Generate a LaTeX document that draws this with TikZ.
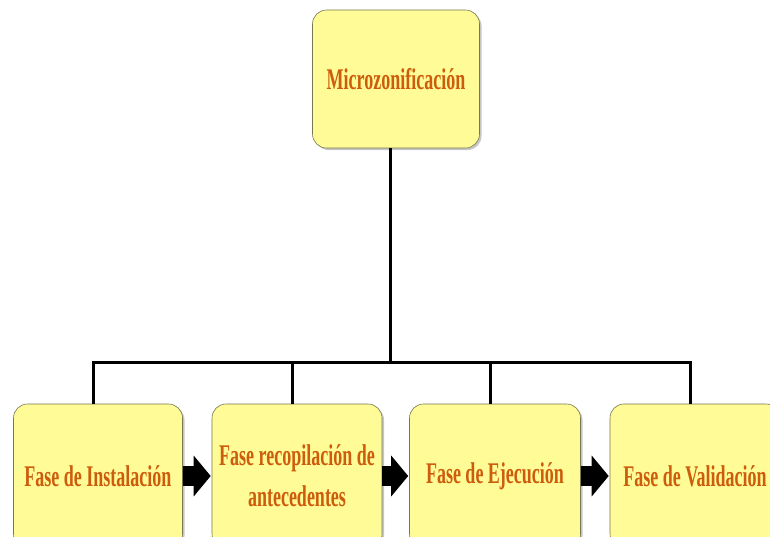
\documentclass[tikz,border=0pt]{standalone}
\usepackage{fontspec}
\setmainfont{Liberation Serif}[FakeStretch=0.6]
\usetikzlibrary{arrows.meta, shadows}

\definecolor{boxfill}{RGB}{255,251,150}
\definecolor{boxline}{RGB}{120,120,80}
\definecolor{phasetext}{RGB}{205,92,12}

\begin{document}
\begin{tikzpicture}[x=1pt, y=-1pt,
  phase/.style={draw=boxline, fill=boxfill, rounded corners=14pt, line width=0.6pt,
    drop shadow={shadow xshift=2pt, shadow yshift=-2pt, opacity=0.45},
    text=phasetext, font=\bfseries\fontsize{30}{34}\selectfont, align=center,
    inner sep=0pt},
  link/.style={line width=3pt},
  fat/.style={line width=20pt, -{Triangle[length=17pt, width=40pt]}, shorten >=1pt}]%
  \useasboundingbox (0, 0) rectangle (770, 536);
  \clip (0, 0) rectangle (770, 536);
  \node[phase, minimum width=167pt, minimum height=138pt] (micro) at (396, 79) {Microzonificación};
  \node[phase, minimum width=169pt, minimum height=144pt] (inst) at (98, 476) {Fase de Instalación};
  \node[phase, minimum width=170pt, minimum height=144pt] (recop) at (297, 476) {Fase recopilación de\\[7pt]antecedentes};
  \node[phase, minimum width=171pt, minimum height=144pt] (ejec) at (495, 476) {Fase de Ejecución};
  \node[phase, minimum width=170pt, minimum height=144pt] (valid) at (695, 476) {Fase de Validación};
  % tree
  \coordinate (bus) at (390, 362);
  \draw[link] (micro.south -| bus) -- (bus);
  \draw[link] ([xshift=-5pt]inst.north) |- (bus) -| ([xshift=-5pt]valid.north);
  \foreach \n in {recop, ejec} {
    \draw[link] ([xshift=-5pt]\n.north) -- ([xshift=-5pt]\n.north |- bus);
  }
  % arrows
  \draw[fat] (inst.east) -- (recop.west);
  \draw[fat] (recop.east) -- (ejec.west);
  \draw[fat] (ejec.east) -- (valid.west);
\end{tikzpicture}
\end{document}
